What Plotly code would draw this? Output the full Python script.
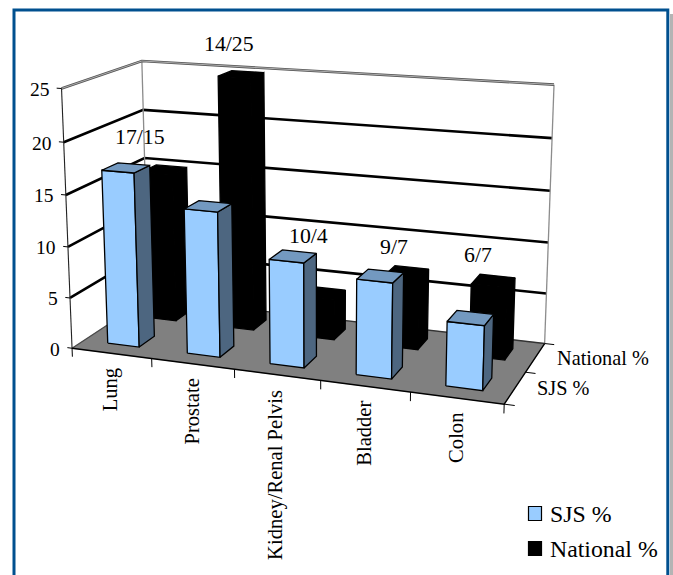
import numpy as np
import plotly.graph_objects as go

categories = ["Lung", "Prostate", "Kidney/Renal Pelvis", "Bladder", "Colon"]
sjs_values = [17, 14, 10, 9, 6]
national_values = [15, 25, 4, 7, 7]
series_names = ["SJS %", "National %"]
value_ticks = [0, 5, 10, 15, 20, 25]

W, H = 673, 575
FONT = "Liberation Serif"

# Viewing setup for the 3D column chart: camera, box proportions, image centre and focal scale
EYE = np.array([1.0427, -2.8438, 0.8018])
LOOK_AT = np.array([0.0011, -0.1193, 0.0712])
UP = np.array([0.0018, 0.0098, 1.0])
BOX = np.array([0.8894, 0.3544, 0.532])
IMG_CENTER = (287.5, 197.9)
FOCAL = (1307.83 / 2) / np.tan(np.pi / 8)

fwd = LOOK_AT - EYE
fwd = fwd / np.linalg.norm(fwd)
right = np.cross(fwd, UP)
right = right / np.linalg.norm(right)
upv = np.cross(right, fwd)

N_CAT, N_ROW, Z_MAX = len(categories), len(series_names), value_ticks[-1]


def project(x, y, z):
    """Category position, series row and value -> position on the flat plotting axes."""
    p = (np.array([x / N_CAT, y / N_ROW, z / Z_MAX]) - 0.5) * BOX - EYE
    d = p @ fwd
    return IMG_CENTER[0] + FOCAL * (p @ right) / d, IMG_CENTER[1] - FOCAL * (p @ upv) / d


fig = go.Figure()


def path(points, color, width, fill=None):
    pts = [project(*q) for q in points]
    fig.add_trace(go.Scatter(
        x=[a for a, _ in pts], y=[b for _, b in pts], mode="lines",
        line=dict(color=color, width=width, simplify=False),
        fill="toself" if fill else "none", fillcolor=fill,
        hoverinfo="skip", showlegend=False))


# Floor
path([(0, 0, 0), (N_CAT, 0, 0), (N_CAT, N_ROW, 0), (0, N_ROW, 0), (0, 0, 0)], "#808080", 0.5, "#808080")

# Wall gridlines, wall edges and the outer rim
for v in value_ticks[1:-1]:
    path([(0, 0, v), (0, N_ROW, v), (N_CAT, N_ROW, v)], "#000000", 2.6)
path([(0, N_ROW, 0), (0, N_ROW, Z_MAX)], "#8c8c8c", 1.3)
path([(N_CAT, N_ROW, 0), (N_CAT, N_ROW, Z_MAX)], "#8c8c8c", 1.3)
rim = [(0, 0, Z_MAX), (0, N_ROW, Z_MAX), (N_CAT, N_ROW, Z_MAX)]
path(rim, "#555555", 2.6)
path(rim, "#c4c4c4", 0.8)
path([(0, 0, 0), (0, 0, Z_MAX)], "#222222", 1.1)
path([(0, 0, 0), (0, N_ROW, 0)], "#4a4a4a", 1.3)
path([(0, N_ROW, 0), (N_CAT, N_ROW, 0)], "#333333", 1.4)

# Floor front and side edges with their ticks
path([(0, 0, 0), (N_CAT, 0, 0), (N_CAT, N_ROW, 0)], "#000000", 1.4)
for i in range(N_CAT + 1):
    path([(i, 0, 0), (i, 0, -0.85)], "#000000", 1.0)
for r in range(N_ROW + 1):
    path([(N_CAT, r, 0), (N_CAT + 0.11, r, 0)], "#000000", 1.0)
for v in value_ticks:
    path([(0, 0, v), (-0.06, 0, v)], "#000000", 1.0)


def bar(i, row, value, front, top, side, edge):
    x0, x1 = i + 0.3, i + 0.7
    y0, y1 = row + 0.3, row + 0.7
    path([(x0, y0, 0), (x1, y0, 0), (x1, y0, value), (x0, y0, value), (x0, y0, 0)], edge, 1.3, front)
    path([(x1, y0, 0), (x1, y1, 0), (x1, y1, value), (x1, y0, value), (x1, y0, 0)], edge, 1.3, side)
    path([(x0, y0, value), (x1, y0, value), (x1, y1, value), (x0, y1, value), (x0, y0, value)], edge, 1.3, top)


# Back row first, each row left to right, so nearer columns paint over farther ones
for i, v in enumerate(national_values):
    bar(i, 1, v, "#000000", "#000000", "#000000", "#000000")
for i, v in enumerate(sjs_values):
    bar(i, 0, v, "#99CCFF", "#7399C0", "#4D6680", "#000000")

notes = []


def text(x, y, s, size, xanchor="center", yanchor="middle", angle=0, xshift=0, yshift=0):
    notes.append(dict(x=x, y=y, xref="x", yref="y", text=s, showarrow=False, xanchor=xanchor,
                      yanchor=yanchor, textangle=angle, xshift=xshift, yshift=yshift,
                      font=dict(family=FONT, size=size, color="#000000")))


# Value axis labels
for v in value_ticks:
    x, y = project(0, 0, v)
    text(x, y, str(v), 19.5, xanchor="right", xshift=-10, yshift=-1)

# Category labels, read upward below the front edge
for i, name in enumerate(categories):
    x, y = project(i + 0.5, 0, 0)
    text(x, y, name, 20.6, yanchor="top", angle=-90, xshift=-1, yshift=-13)

# Series labels along the floor's side edge
for r, name in enumerate(series_names):
    x, y = project(N_CAT, r + 0.5, 0)
    text(x, y, name, 20.3, xanchor="left", xshift=20)

# Paired value captions placed clear of the columns
caption_spots = [(140, 137), (229, 44), (308, 236), (394, 247), (478, 255)]
for (cx, cy), a, b in zip(caption_spots, sjs_values, national_values):
    text(cx, cy, f"{a}/{b}", 21.8)

# Legend
legend_rows = [(506.5, "#99CCFF", 514), (541.5, "#000000", 549)]
shapes = []
for (top, color, mid), name in zip(legend_rows, series_names):
    shapes.append(dict(type="rect", xref="x", yref="y", x0=528.5, x1=541.5, y0=top, y1=top + 14,
                       fillcolor=color, line=dict(color="#000000", width=1.2)))
    text(547.5, mid, name, 23.8, xanchor="left")

# Panel border with a soft shadow on its right side
shapes.append(dict(type="rect", xref="x", yref="y", x0=670, x1=673, y0=14, y1=H + 5,
                   fillcolor="#b4b4b4", line=dict(width=0)))
shapes.append(dict(type="rect", xref="x", yref="y", x0=14, x1=667.8, y0=10, y1=H + 10,
                   fillcolor="rgba(0,0,0,0)", line=dict(color="#00508F", width=3)))

fig.update_layout(
    width=W, height=H, margin=dict(l=0, r=0, t=0, b=0), showlegend=False,
    paper_bgcolor="white", plot_bgcolor="white",
    xaxis=dict(range=[0, W], visible=False, domain=[0, 1], fixedrange=True),
    yaxis=dict(range=[H, 0], visible=False, domain=[0, 1], fixedrange=True),
    annotations=notes, shapes=shapes)

fig.write_html("out.html")
